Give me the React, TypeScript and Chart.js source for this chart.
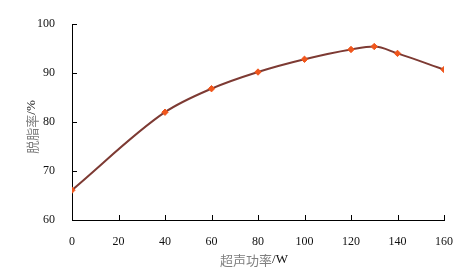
import React, { useEffect, useRef } from "react";
import { Chart, registerables } from "chart.js";

Chart.register(...registerables);

const powerW = [0, 40, 60, 80, 100, 120, 130, 140, 160];
const degreasingRate = [66.1, 82.0, 86.8, 90.2, 92.8, 94.8, 95.4, 94.0, 90.7];
const xTicks = [0, 20, 40, 60, 80, 100, 120, 140, 160];
const yTicks = [60, 70, 80, 90, 100];
const xTitleCn = "超声功率";
const xTitleUnit = "/W";
const yTitleCn = "脱脂率";
const yTitleUnit = "/%";

const inwardTicks = {
  id: "inwardTicks",
  afterDraw(chart: any) {
    const { ctx, chartArea, scales } = chart;
    ctx.save();
    ctx.strokeStyle = "#000";
    ctx.lineWidth = 1;
    ctx.beginPath();
    xTicks.forEach((v) => {
      const px = Math.round(scales.x.getPixelForValue(v)) + 0.5;
      ctx.moveTo(px, chartArea.bottom);
      ctx.lineTo(px, chartArea.bottom - 5);
    });
    yTicks.forEach((v) => {
      const py = Math.round(scales.y.getPixelForValue(v)) + 0.5;
      ctx.moveTo(chartArea.left, py);
      ctx.lineTo(chartArea.left + 5, py);
    });
    ctx.stroke();

    const cnFont = '13px "Noto Sans CJK SC", serif';
    const unitFont = '13px "Liberation Serif", serif';
    ctx.textBaseline = "middle";
    ctx.textAlign = "left";
    ctx.font = cnFont;
    const wCn = ctx.measureText(xTitleCn).width;
    ctx.font = unitFont;
    const wU = ctx.measureText(xTitleUnit).width;
    const cx = 254;
    const cy = 260;
    const sx = cx - (wCn + wU) / 2;
    ctx.font = cnFont;
    ctx.fillStyle = "#808080";
    ctx.fillText(xTitleCn, sx, cy);
    ctx.font = unitFont;
    ctx.fillStyle = "#111";
    ctx.fillText(xTitleUnit, sx + wCn, cy);

    ctx.save();
    ctx.translate(32, 127);
    ctx.rotate(-Math.PI / 2);
    ctx.font = cnFont;
    const yCn = ctx.measureText(yTitleCn).width;
    ctx.font = unitFont;
    const yU = ctx.measureText(yTitleUnit).width;
    const sy = -(yCn + yU) / 2;
    ctx.font = cnFont;
    ctx.fillStyle = "#808080";
    ctx.fillText(yTitleCn, sy, 0);
    ctx.font = unitFont;
    ctx.fillStyle = "#111";
    ctx.fillText(yTitleUnit, sy + yCn, 0);
    ctx.restore();
    ctx.restore();
  },
};

export default function App() {
  const ref = useRef<HTMLCanvasElement>(null);
  useEffect(() => {
    document.body.style.margin = "0";
    const chart = new Chart(ref.current!, {
      type: "line",
      data: {
        datasets: [
          {
            data: powerW.map((x, i) => ({ x, y: degreasingRate[i] })),
            borderColor: "#7d3a33",
            borderWidth: 2,
            cubicInterpolationMode: "monotone",
            pointStyle: "rectRot",
            pointRadius: 3.2,
            pointBackgroundColor: "#f0561c",
            pointBorderColor: "#f0561c",
            pointBorderWidth: 1,
          },
        ],
      },
      options: {
        animation: false,
        responsive: false,
        layout: { padding: { left: 0, right: 26, top: 24, bottom: 0 } },
        plugins: { legend: { display: false }, tooltip: { enabled: false } },
        scales: {
          x: {
            type: "linear",
            min: 0,
            max: 160,
            afterBuildTicks: (s: any) => {
              s.ticks = xTicks.map((v) => ({ value: v }));
            },
            afterFit: (s: any) => {
              s.height = 51;
            },
            grid: { display: false },
            border: { display: true, color: "#000", width: 1 },
            ticks: {
              color: "#111",
              padding: 7,
              font: { family: '"Liberation Serif", serif', size: 12 },
            },
          },
          y: {
            min: 60,
            max: 100,
            afterBuildTicks: (s: any) => {
              s.ticks = yTicks.map((v) => ({ value: v }));
            },
            afterFit: (s: any) => {
              s.width = 72;
            },
            grid: { display: false },
            border: { display: true, color: "#000", width: 1 },
            ticks: {
              color: "#111",
              padding: 9,
              font: { family: '"Liberation Serif", serif', size: 12 },
            },
          },
        },
      },
      plugins: [inwardTicks],
    });
    return () => chart.destroy();
  }, []);
  return <canvas ref={ref} width={470} height={271} style={{ display: "block" }} />;
}
